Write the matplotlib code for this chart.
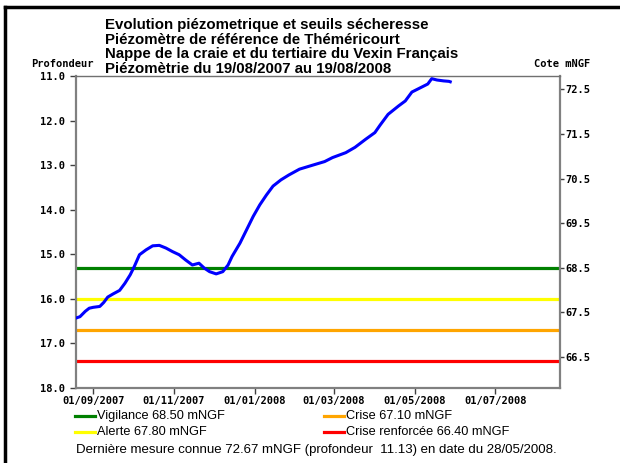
import matplotlib
matplotlib.use('Agg')
import matplotlib.pyplot as plt
import matplotlib.dates as mdates
from matplotlib.lines import Line2D
import pandas as pd

# repere : cote mNGF = REPERE - profondeur
REPERE = 83.80
debut = pd.Timestamp('2007-08-19')
fin = pd.Timestamp('2008-08-19')

# jours depuis le 19/08/2007, profondeur en m
jours = [0, 3, 7, 10, 13, 18, 21, 24, 28, 33, 37, 41, 44, 48, 53, 58, 63, 68, 73, 78,
         83, 88, 93, 97, 101, 106, 111, 115, 118, 124, 129, 134, 139, 144, 149, 155,
         161, 169, 179, 188, 194, 204, 211, 219, 226, 230, 236, 244, 249, 254, 262,
         266, 269, 273, 278, 282, 283]
profondeur = [16.43, 16.40, 16.28, 16.21, 16.19, 16.17, 16.08, 15.96, 15.89, 15.81,
              15.65, 15.46, 15.28, 15.01, 14.90, 14.81, 14.80, 14.86, 14.94, 15.01,
              15.13, 15.24, 15.20, 15.31, 15.39, 15.44, 15.39, 15.24, 15.05, 14.75,
              14.45, 14.15, 13.89, 13.67, 13.47, 13.33, 13.22, 13.09, 13.00, 12.92,
              12.83, 12.72, 12.60, 12.42, 12.27, 12.10, 11.86, 11.67, 11.56, 11.36,
              11.24, 11.18, 11.06, 11.09, 11.11, 11.12, 11.13]

seuils_noms = ['Vigilance', 'Alerte', 'Crise', 'Crise renforcée']
seuils_cote = [68.50, 67.80, 67.10, 66.40]
seuils_coul = ['#008000', '#ffff00', '#ffa500', '#ff0000']

prof_ticks = [11.0, 12.0, 13.0, 14.0, 15.0, 16.0, 17.0, 18.0]
cote_ticks = [72.5, 71.5, 70.5, 69.5, 68.5, 67.5, 66.5]
date_ticks = ['2007-09-01', '2007-11-01', '2008-01-01', '2008-03-01', '2008-05-01', '2008-07-01']

titre = ['Evolution piézometrique et seuils sécheresse',
         'Piézomètre de référence de Théméricourt',
         'Nappe de la craie et du tertiaire du Vexin Français',
         'Piézomètrie du 19/08/2007 au 19/08/2008']
derniere = 'Dernière mesure connue 72.67 mNGF (profondeur  11.13) en date du 28/05/2008.'

W, H = 620, 463
fig = plt.figure(figsize=(W / 100, H / 100), dpi=100)
ax = fig.add_axes([76 / W, 1 - 388 / H, (560 - 76) / W, (388 - 76) / H])

dates = debut + pd.to_timedelta(jours, unit='D')
for c, coul in zip(seuils_cote, seuils_coul):
    ax.axhline(REPERE - c, color=coul, lw=2.3, zorder=2)
ax.plot(dates, profondeur, color='#0000ff', lw=2.2, zorder=3)

ax.set_xlim(debut, fin)
ax.set_ylim(18, 11)
ax.set_yticks(prof_ticks)
ax.set_yticklabels(['%.1f' % v for v in prof_ticks])
ax.set_xticks(pd.to_datetime(date_ticks))
ax.xaxis.set_major_formatter(mdates.DateFormatter('%d/%m/%Y'))

mono = dict(family='DejaVu Sans Mono', weight='bold', size=7.5)
for lab in ax.get_xticklabels() + ax.get_yticklabels():
    lab.set_fontproperties(mono)
ax.tick_params(axis='y', length=4, width=1, color='#404040', pad=4)
ax.tick_params(axis='x', length=4, width=1, color='#404040', pad=2)

for s in ['left', 'right', 'bottom']:
    ax.spines[s].set_color('#808080')
    ax.spines[s].set_linewidth(1.6)
ax.spines['top'].set_color('#707070')
ax.spines['top'].set_linewidth(1.0)

sec = ax.secondary_yaxis('right', functions=(lambda d: REPERE - d, lambda c: REPERE - c))
sec.set_yticks(cote_ticks)
sec.set_yticklabels(['%.1f' % v for v in cote_ticks])
for lab in sec.get_yticklabels():
    lab.set_fontproperties(mono)
sec.tick_params(length=3, width=1, color='#404040', pad=1)
sec.spines['right'].set_visible(False)

# titres
for i, t in enumerate(titre):
    fig.text(105 / W, 1 - (25 + 14.7 * i) / H, t, ha='left', va='center',
             family='Liberation Sans', weight='bold', size=10.8)
fig.text(62 / W, 1 - 64 / H, 'Profondeur', ha='center', va='center', **mono)
fig.text(562 / W, 1 - 64 / H, 'Cote mNGF', ha='center', va='center', **mono)

# legende
pos = [(75, 416), (75, 432), (324, 416), (324, 432)]
for (x, y), nom, c, coul in zip(pos, seuils_noms, seuils_cote, seuils_coul):
    fig.add_artist(Line2D([x / W, (x + 20) / W], [1 - y / H, 1 - y / H], color=coul, lw=2.3))
    fig.text((x + 22) / W, 1 - y / H, '%s %.2f mNGF' % (nom, c), ha='left', va='center',
             family='Liberation Sans', size=9.2)
fig.text(76 / W, 1 - 450 / H, derniere, ha='left', va='center', family='Liberation Sans', size=9.5)

# cadre exterieur
fig.add_artist(Line2D([5 / W, 1], [1 - 7 / H, 1 - 7 / H], color='black', lw=2.5))
fig.add_artist(Line2D([5 / W, 5 / W], [0, 1 - 7 / H], color='black', lw=2.5))

fig.savefig('out.png', dpi=100)
